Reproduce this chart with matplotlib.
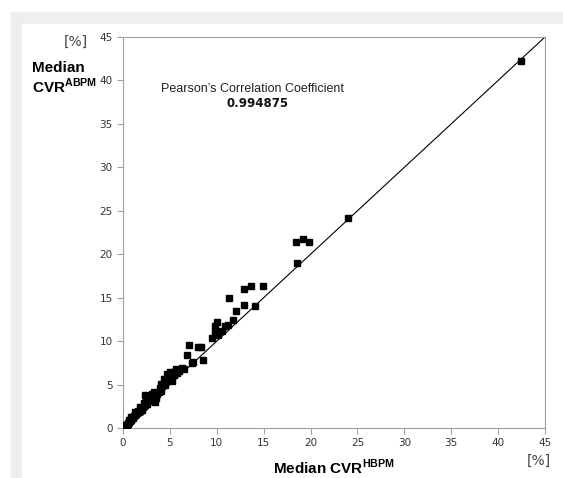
import matplotlib
matplotlib.use('Agg')
import matplotlib.pyplot as plt
from matplotlib.patches import Rectangle

plt.rcParams['mathtext.fontset'] = 'custom'
plt.rcParams['mathtext.rm'] = 'Liberation Sans'
plt.rcParams['mathtext.bf'] = 'Liberation Sans:bold'

# Median CVR values (x = HBPM, y = ABPM), in %
cvr_hbpm = [0.1, 0.2, 0.3, 0.3, 0.4, 0.5, 0.5, 0.6, 0.7, 0.8, 0.9, 1.0, 1.0, 1.1,
            1.2, 1.3, 1.4, 1.5, 1.6, 1.7, 1.8, 1.9, 2.0, 2.1, 2.2, 2.3, 2.4, 2.35,
            2.5, 2.6, 2.8, 2.9, 3.0, 3.2, 3.4, 3.5, 3.6, 3.8, 3.9, 4.0, 4.2, 4.3,
            4.5, 4.6, 4.8, 5.0, 5.0, 5.2, 5.4, 5.7, 6.0, 6.25, 6.5,
            0.2, 0.6, 0.9, 1.3, 1.8, 2.2, 2.7, 3.1, 3.3, 4.1, 4.4, 4.7, 5.3, 5.8,
            6.86, 7.07, 7.4, 7.5, 8.0, 8.3, 8.5, 9.45, 9.8, 10.0, 10.1, 10.6,
            10.9, 11.2, 9.8, 10.0, 11.75, 12.0, 12.9, 14.1, 11.3, 12.9, 13.7,
            14.96, 18.4, 18.6, 19.2, 19.8, 24.0, 42.4]
cvr_abpm = [0.1, 0.2, 0.3, 0.2, 0.4, 0.5, 0.6, 0.7, 0.8, 0.9, 1.0, 1.1, 1.3, 1.2,
            1.4, 1.5, 1.6, 1.7, 1.9, 1.8, 2.0, 2.2, 2.1, 2.4, 2.5, 2.6, 3.0, 3.8,
            3.4, 2.8, 3.1, 3.5, 3.3, 3.6, 3.0, 3.4, 3.9, 4.1, 4.6, 4.3, 4.8, 4.95,
            5.0, 5.4, 5.5, 5.9, 6.5, 5.4, 6.1, 6.75, 6.6, 6.9, 6.8,
            0.4, 0.9, 1.3, 1.8, 2.4, 2.9, 3.6, 3.9, 4.2, 5.1, 5.6, 6.2, 6.4, 6.3,
            8.4, 9.55, 7.45, 7.6, 9.35, 9.3, 7.8, 10.4, 11.0, 10.9, 10.7, 11.2,
            11.7, 11.8, 11.7, 12.2, 12.4, 13.5, 14.2, 14.0, 15.0, 16.0, 16.3,
            16.3, 21.4, 19.0, 21.8, 21.4, 24.2, 42.2]
corr = 0.994875
ticks = list(range(0, 50, 5))

fig = plt.figure(figsize=(5.63, 4.78), dpi=100)

# light gray frame at top and left
fig.add_artist(Rectangle((11/563, 0), 1, 1 - 12/478, transform=fig.transFigure,
                         color='#eeeeee', zorder=-10))
fig.add_artist(Rectangle((22/563, 0), 1, 1 - 24/478, transform=fig.transFigure,
                         color='white', zorder=-9))

ax = fig.add_axes([123/563, 50/478, 422/563, 391/478])
ax.set_zorder(1)
ax.plot([0, 45], [0, 45], color='black', linewidth=0.8, zorder=2)
ax.plot(cvr_hbpm, cvr_abpm, 's', color='black', markersize=5, zorder=3)

ax.set_xlim(0, 45)
ax.set_ylim(0, 45)
ax.set_xticks(ticks)
ax.set_yticks(ticks)
for s in ax.spines.values():
    s.set_color('#a0a0a0')
ax.tick_params(length=4, color='#a0a0a0', labelsize=7.5, labelcolor='#333333')

ax.text(0.308, 0.866, "Pearson\u2019s Correlation Coefficient", transform=ax.transAxes,
        ha='center', va='center', fontsize=9, family='Liberation Sans', color='#222222')
ax.text(0.318, 0.831, f"{corr:.6f}", transform=ax.transAxes,
        ha='center', va='center', fontsize=8.5, fontweight='bold', color='#111111')

lab = dict(family='Liberation Sans', fontsize=11, fontweight='bold')
fig.text(32/563, 1 - 68/478, "Median", va='center', **lab)
fig.text(32/563, 1 - 86/478, r"CVR$^{\mathbf{ABPM}}$", va='center', **lab)
fig.text(334/563, 1 - 467/478, r"Median CVR$^{\mathbf{HBPM}}$", ha='center', va='center', **lab)
fig.text(76/563, 1 - 42/478, "[%]", ha='center', va='center', fontsize=10, color='#444444')
fig.text(539/563, 1 - 461/478, "[%]", ha='center', va='center', fontsize=10, color='#444444')

plt.savefig('out.png', dpi=100)
